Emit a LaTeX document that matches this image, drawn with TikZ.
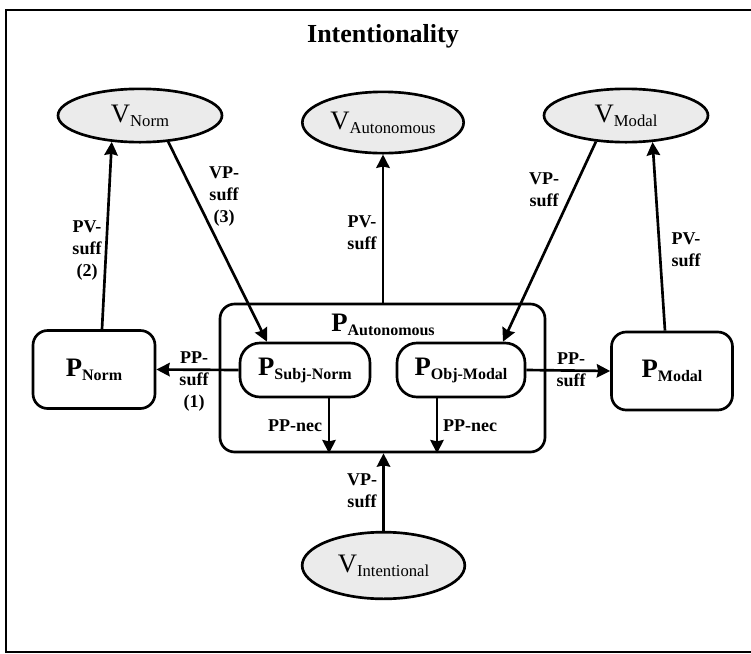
\documentclass[tikz,border=0pt]{standalone}
\usepackage{fontspec}
\setmainfont{Liberation Serif}
\usetikzlibrary{arrows.meta,shapes.geometric}

\definecolor{vfill}{RGB}{235,235,235}
\newcommand{\Vsub}[1]{{\fontsize{20}{22}\selectfont V}\raisebox{-3pt}{\fontsize{12.5}{14}\selectfont #1}}
\newcommand{\Psub}[1]{{\fontsize{20}{22}\selectfont\bfseries P}\raisebox{-3pt}{\fontsize{12}{14}\selectfont\bfseries #1}}

\tikzset{every picture/.style={line width=2pt}}
\tikzset{
  vnode/.style={draw, ellipse, fill=vfill, inner sep=0pt},
  pnode/.style={draw, rounded corners=11pt, inner sep=0pt},
  lab/.style={font=\fontsize{13.5}{16.5}\selectfont\bfseries, align=center, inner sep=0.75pt},
  conn/.style={-{Stealth[length=10pt,width=10pt,inset=1pt]}},
}

\begin{document}
\begin{tikzpicture}[x=0.75pt,y=0.75pt,yscale=-1,xscale=1]
\useasboundingbox (0,0) rectangle (751,654);

%Frame
\draw [line width=1.5pt] (751,9.5) -- (5.5,9.5) -- (5.5,652) -- (751,652) ;

% Text Node
\node (title) at (383,36) [inner sep=0.75pt, font=\fontsize{19.5}{22}\selectfont\bfseries] {Intentionality};

%Shape: Ellipse
\node (vnorm) at (140,115.5) [vnode, minimum width=123pt, minimum height=40pt] {\Vsub{Norm}};
%Shape: Ellipse
\node (vaut) at (383,122.5) [vnode, minimum width=121pt, minimum height=46pt] {\Vsub{Autonomous}};
%Shape: Ellipse
\node (vmodal) at (626,115.5) [vnode, minimum width=123pt, minimum height=40pt] {\Vsub{Modal}};
%Shape: Ellipse
\node (vint) at (383.5,565.5) [vnode, minimum width=122pt, minimum height=50pt] {\Vsub{Intentional}};

%Shape: Rounded Rect
\node (paut) at (382.5,378) [pnode, minimum width=243.75pt, minimum height=111pt] {};
% Text Node
\node (pautlab) at (383,325) [inner sep=0.75pt] {\Psub{Autonomous}};
%Shape: Rounded Rect
\node (psubj) at (305,370) [pnode, rounded corners=15pt, minimum width=97.5pt, minimum height=40.5pt] {\Psub{Subj-Norm}};
%Shape: Rounded Rect
\node (pobj) at (461,370) [pnode, rounded corners=15pt, minimum width=96pt, minimum height=40.5pt] {\Psub{Obj-Modal}};
%Shape: Rounded Rect
\node (pnorm) at (94,369.5) [pnode, minimum width=91.5pt, minimum height=58.5pt] {\Psub{Norm}};
%Shape: Rounded Rect
\node (pmodal) at (672,371) [pnode, minimum width=90.75pt, minimum height=58.5pt] {\Psub{Modal}};

%Straight Lines
\draw [conn] ([xshift=6pt]pnorm.north) -- (vnorm.223) ;
\draw [conn] (vnorm.317) -- ([xshift=-28.5pt]psubj.north) ;
\draw [conn] (paut.north -| vaut.south) -- (vaut.south) ;
\draw [conn] (vmodal.221) -- ([xshift=31.5pt]pobj.north) ;
\draw [conn] ([xshift=-5.25pt]pmodal.north) -- (vmodal.315.6) ;
\draw [conn] (psubj.west) -- (pnorm.west -| pnorm.east) ;
\draw [conn] (pobj.east) -- (pmodal.west) ;
\draw [conn] ([xshift=18pt]psubj.south) -- ([xshift=18pt]psubj.south |- paut.south) ;
\draw [conn] ([xshift=-18pt]pobj.south) -- ([xshift=-18pt]pobj.south |- paut.south) ;
\draw [conn] (vint.north) -- (vint.north |- paut.south) ;

% Text Node
\node (l1) at (87,251) [lab] {PV-\\suff\\(2)};
% Text Node
\node (l2) at (224,197) [lab] {VP-\\suff\\(3)};
% Text Node
\node (l3) at (362,233) [lab] {PV-\\suff};
% Text Node
\node (l4) at (544,190) [lab] {VP-\\suff};
% Text Node
\node (l5) at (686,250) [lab] {PV-\\suff};
% Text Node
\node (l6) at (194,382) [lab] {PP-\\suff\\(1)};
% Text Node
\node (l7) at (571,370) [lab] {PP-\\suff};
% Text Node
\node (l8) at (295,426) [lab] {PP-nec};
% Text Node
\node (l9) at (470,426) [lab] {PP-nec};
% Text Node
\node (l10) at (362,491) [lab] {VP-\\suff};

\end{tikzpicture}
\end{document}
